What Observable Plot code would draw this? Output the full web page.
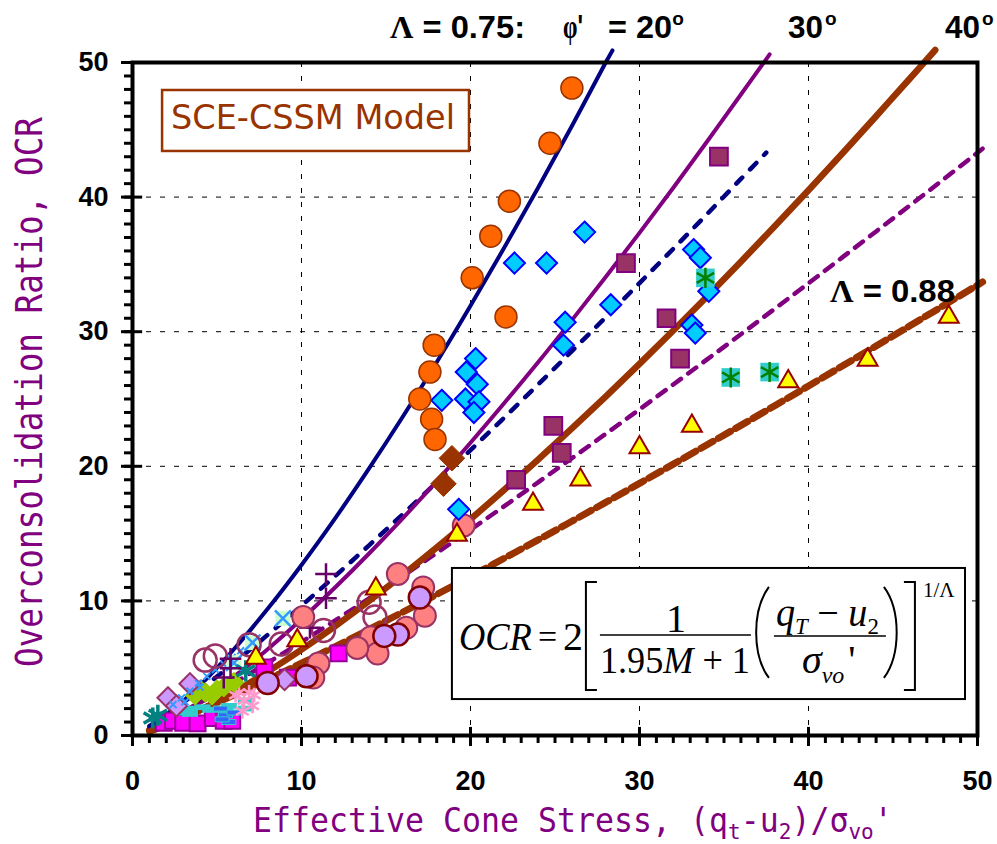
<!DOCTYPE html>
<html>
<head>
<meta charset="utf-8">
<script src="https://cdn.jsdelivr.net/npm/d3@7"></script>
<script src="https://cdn.jsdelivr.net/npm/@observablehq/plot@0.6"></script>
<style>
  body { margin: 0; background: #fff; }
  #chart { position: relative; width: 997px; height: 844px; }
</style>
</head>
<body>
<div id="chart"></div>
<script>
// ---------------- DATA ----------------
const majorTicks = [0, 10, 20, 30, 40, 50];
const minorTicks = d3.range(0, 51, 1);
const gridLines = [10, 20, 30, 40];

// model curves (Lambda = 0.75 solid, 0.88 dashed)
const xs20s = [1, 2, 4, 6, 8, 10, 12, 14, 16, 18, 20, 22, 24, 26, 28, 28.4];
const ys20s = [0.59, 1.48, 3.73, 6.41, 9.41, 12.67, 16.15, 19.84, 23.70, 27.73, 31.92, 36.25, 40.70, 45.28, 50.0, 50.9];
const xs30s = [1, 2, 4, 6, 8, 10, 12, 14, 16, 18, 20, 22, 24, 26, 28, 30, 32, 34, 36, 37.7];
const ys30s = [0.40, 1.01, 2.54, 4.37, 6.41, 8.63, 11.01, 13.52, 16.15, 18.90, 21.75, 24.70, 27.73, 30.86, 34.07, 37.34, 40.70, 44.13, 47.62, 50.6];
const xs40s = [1, 2, 4, 6, 8, 10, 12, 14, 16, 18, 20, 22, 24, 26, 28, 30, 32, 34, 36, 38, 40, 42, 44, 46, 47.5];
const ys40s = [0.30, 0.75, 1.88, 3.23, 4.74, 6.38, 8.13, 9.99, 11.94, 13.97, 16.07, 18.26, 20.50, 22.81, 25.18, 27.61, 30.09, 32.62, 35.20, 37.83, 40.51, 43.24, 46.01, 48.81, 50.93];
const xs20d = [1, 2, 4, 6, 8, 10, 12, 14, 16, 18, 20, 22, 24, 26, 28, 30, 32, 34, 36, 37.5];
const ys20d = [0.70, 1.55, 3.40, 5.40, 7.48, 9.64, 11.86, 14.13, 16.45, 18.81, 21.20, 23.62, 26.08, 28.56, 31.07, 33.61, 36.16, 38.74, 41.35, 43.30];
const xs30d = [1, 2, 4, 6, 8, 10, 12, 14, 16, 18, 20, 22, 24, 26, 28, 30, 32, 34, 36, 38, 40, 42, 44, 46, 48, 50, 50.3];
const ys30d = [0.51, 1.12, 2.45, 3.89, 5.40, 6.95, 8.55, 10.19, 11.86, 13.56, 15.29, 17.04, 18.81, 20.60, 22.41, 24.23, 26.08, 27.94, 29.81, 31.70, 33.60, 35.52, 37.45, 39.38, 41.33, 43.30, 43.6];
const xs40d = [1, 2, 4, 6, 8, 10, 12, 14, 16, 18, 20, 22, 24, 26, 28, 30, 32, 34, 36, 38, 40, 42, 44, 46, 48, 50, 50.3];
const ys40d = [0.39, 0.86, 1.90, 3.01, 4.17, 5.37, 6.61, 7.88, 9.17, 10.48, 11.81, 13.17, 14.53, 15.92, 17.32, 18.73, 20.16, 21.60, 23.04, 24.50, 25.97, 27.45, 28.94, 30.44, 31.95, 33.46, 33.7];

// measured data series [x, y]
const orangeCircles = [[26.0,48.1],[24.7,44.0],[22.3,39.7],[21.2,37.1],[20.1,34.0],[22.1,31.1],[17.85,29.0],[17.6,27.0],[17.0,25.0],[17.7,23.5],[17.9,22.0]];
const cyanDiamonds = [[26.75,37.4],[22.6,35.1],[24.5,35.1],[28.3,32.0],[25.6,30.7],[25.5,29.0],[33.2,36.1],[33.6,35.5],[34.1,33.0],[33.1,30.5],[33.3,29.9],[20.3,28.0],[19.75,27.0],[20.4,26.1],[18.3,24.9],[19.7,25.0],[20.5,24.8],[20.2,24.0],[19.3,16.8]];
const purpleSquares = [[34.7,43.0],[29.2,35.1],[31.6,31.0],[32.4,28.0],[24.9,23.0],[25.4,21.0],[22.7,19.0]];
const starSquares = [[33.9,34.0],[35.4,26.6],[37.7,27.0]];
const yellowTriangles = [[48.3,31.1],[43.5,27.9],[38.8,26.3],[33.1,23.0],[30.0,21.4],[26.5,19.0],[23.7,17.2],[19.2,14.9],[14.4,10.9],[9.75,7.05],[7.3,5.75]];
const brownDiamonds = [[18.9,20.6],[18.4,18.7]];
const salmonCircles = [[19.6,15.6],[15.7,12.0],[17.2,11.0],[17.3,8.9],[16.2,8.0],[14.1,7.3],[14.5,6.1],[13.3,6.5],[11.0,5.35],[10.1,8.8],[10.7,4.3]];
const lavenderCircles = [[17.0,10.25],[15.7,7.5],[14.9,7.4],[10.3,4.4],[8.0,3.9]];
const openCircles = [[4.3,5.6],[4.9,5.9],[6.9,6.75],[8.8,6.8],[11.3,7.8],[14.0,9.9],[14.35,8.8]];
const purplePlus = [[11.45,12.0],[11.45,10.2],[10.5,8.0],[5.8,5.7],[5.8,5.0],[5.4,4.3]];
const crossOnGreen = [[8.9,8.7],[7.1,6.9],[6.0,5.4]];
const smallBlueX = [[2.4,2.3],[2.9,2.8],[3.4,3.3],[3.9,3.9],[4.4,4.4],[4.9,4.9],[5.4,5.3],[5.9,5.8],[6.4,6.3],[3.1,2.5],[4.0,3.6]];
const lavenderDiamonds = [[2.1,2.8],[2.6,2.2],[3.4,3.85],[9.0,4.15]];
const greenDiamonds = [[3.7,3.0],[4.3,3.2],[4.7,3.0],[5.0,3.4],[5.4,3.6],[6.0,3.95],[4.0,3.4]];
const magentaSquares = [[1.85,0.95],[2.4,1.1],[3.0,0.95],[3.85,0.9],[4.75,1.3],[5.4,1.1],[5.9,1.1],[7.8,5.05],[12.2,6.1],[9.2,4.3]];
const cyanDashes = [[3.0,1.7],[3.4,2.0],[3.4,1.6],[4.15,2.1],[4.6,1.9],[5.5,1.9],[5.7,2.2],[6.7,2.6],[6.7,2.0]];
const blueDashes = [[5.2,2.0],[5.5,1.5],[5.7,1.0],[5.3,1.2],[6.0,1.7]];
const pinkStars = [[6.1,3.0],[6.3,3.2],[6.9,3.2],[7.1,2.2],[6.6,2.6],[7.2,3.0],[6.5,1.8]];
const tealAsterisks = [[1.2,1.3],[1.5,1.5],[6.7,4.8]];

// ---------------- CHART ----------------
const dashSymbol = {
  draw(ctx, size) {
    const r = Math.sqrt(size / Math.PI);
    ctx.moveTo(-r, -0.36 * r); ctx.lineTo(r, -0.36 * r);
    ctx.lineTo(r, 0.36 * r); ctx.lineTo(-r, 0.36 * r); ctx.closePath();
  }
};
const P = {x: d => d[0], y: d => d[1]};
const dots = (data, o) => Plot.dot(data, {...P, ...o});
const curve = (xs, ys, o) => Plot.line(d3.zip(xs, ys), {...P, curve: "catmull-rom", ...o});

const plot = Plot.plot({
  width: 997, height: 844,
  marginLeft: 132, marginRight: 20, marginTop: 62, marginBottom: 109,
  style: {fontFamily: "'Liberation Sans', Arial, sans-serif", background: "white", overflow: "visible", color: "black"},
  x: {domain: [0, 50]},
  y: {domain: [0, 50]},
  marks: [
    Plot.ruleX(gridLines, {stroke: "black", strokeWidth: 1, strokeDasharray: "5,9"}),
    Plot.ruleY(gridLines, {stroke: "black", strokeWidth: 1, strokeDasharray: "5,9"}),

    curve(xs20d, ys20d, {stroke: "#000080", strokeWidth: 4.5, strokeDasharray: "9,11"}),
    curve(xs30d, ys30d, {stroke: "#800080", strokeWidth: 4.5, strokeDasharray: "10,9"}),
    curve(xs40d, ys40d, {stroke: "#993300", strokeWidth: 7, strokeDasharray: "14,6"}),
    curve(xs20s, ys20s, {stroke: "#000080", strokeWidth: 4}),
    curve(xs30s, ys30s, {stroke: "#800080", strokeWidth: 4}),
    curve(xs40s, ys40s, {stroke: "#993300", strokeWidth: 6.5}),

    dots(magentaSquares, {symbol: "square", r: 9, fill: "#FF00FF", stroke: "#990099", strokeWidth: 2}),
    dots(cyanDashes, {symbol: dashSymbol, r: 8, fill: "#33CCCC", stroke: "none"}),
    dots(blueDashes, {symbol: dashSymbol, r: 7, fill: "#3366FF", stroke: "#33CCCC", strokeWidth: 1}),
    dots(pinkStars, {symbol: "asterisk", r: 7, fill: "none", stroke: "#FF99CC", strokeWidth: 2.5}),
    dots(greenDiamonds, {symbol: "diamond2", r: 9, fill: "#99CC00", stroke: "#99CC00", strokeWidth: 1}),
    dots(lavenderDiamonds, {symbol: "diamond2", r: 9.5, fill: "#CC99FF", stroke: "#993366", strokeWidth: 2}),
    dots(smallBlueX, {symbol: "times", r: 3.2, fill: "none", stroke: "#3399FF", strokeWidth: 2}),
    dots(crossOnGreen, {symbol: "square", r: 8.5, fill: "#CCFFCC", stroke: "none"}),
    dots(crossOnGreen, {symbol: "times", r: 7.3, fill: "none", stroke: "#3399FF", strokeWidth: 2.5}),
    dots(tealAsterisks, {symbol: "asterisk", r: 10, fill: "none", stroke: "#008080", strokeWidth: 3.5}),
    dots(openCircles, {r: 11.5, fill: "none", stroke: "#993366", strokeWidth: 2.5}),
    dots(purplePlus, {symbol: "plus", r: 7, fill: "none", stroke: "#660066", strokeWidth: 2.5}),
    dots(salmonCircles, {r: 11, fill: "#FF8080", stroke: "#993366", strokeWidth: 2}),
    dots(lavenderCircles, {r: 11, fill: "#CC99FF", stroke: "#800000", strokeWidth: 2.5}),
    dots(yellowTriangles, {symbol: "triangle", r: 7.4, fill: "#FFFF00", stroke: "#990000", strokeWidth: 2}),
    dots(brownDiamonds, {symbol: "diamond2", r: 11.5, fill: "#993300", stroke: "#993300", strokeWidth: 1}),
    dots(cyanDiamonds, {symbol: "diamond2", r: 9.5, fill: "#00CCFF", stroke: "#0000FF", strokeWidth: 2}),
    dots(purpleSquares, {symbol: "square", r: 10, fill: "#993366", stroke: "#800080", strokeWidth: 2}),
    dots(starSquares, {symbol: "square", r: 10.5, fill: "#33CCCC", stroke: "none"}),
    dots(starSquares, {symbol: "asterisk", r: 9.5, fill: "none", stroke: "#008000", strokeWidth: 2.5}),
    dots(orangeCircles, {r: 11, fill: "#FF6600", stroke: "#993300", strokeWidth: 1.5}),

    Plot.axisX({ticks: minorTicks, tickSize: 8, tickFormat: () => "", strokeWidth: 3, label: null}),
    Plot.axisY({ticks: minorTicks, tickSize: 8, tickFormat: () => "", strokeWidth: 3, label: null}),
    Plot.axisX({ticks: majorTicks, tickSize: 11, tickPadding: 24, strokeWidth: 3, fontSize: 27, fontWeight: "bold", label: null}),
    Plot.axisY({ticks: majorTicks, tickSize: 11, tickPadding: 13, strokeWidth: 3, fontSize: 27, fontWeight: "bold", label: null}),
    Plot.ruleX(majorTicks, {y1: 0, y2: 0.6, stroke: "black", strokeWidth: 3}),
    Plot.ruleY(majorTicks, {x1: 0, x2: 0.6, stroke: "black", strokeWidth: 3}),
    Plot.frame({stroke: "black", strokeWidth: 4})
  ]
});

document.getElementById("chart").append(plot);

// ---------------- ANNOTATIONS ----------------
const sx = v => plot.scale("x").apply(v);
const sy = v => plot.scale("y").apply(v);
const svg = d3.select(plot);
const ann = svg.append("g").attr("text-anchor", "start").attr("fill", "black");
const SANS = "'Liberation Sans', Arial, sans-serif";
const SERIF = "'Liberation Serif', 'Times New Roman', serif";
const MONO = "'DejaVu Sans Mono', monospace";

function fitted(x, y, width, build, opts = {}) {
  const g = ann.append("g");
  const t = g.append("text").attr("x", 0).attr("y", 0).attr("text-anchor", opts.anchor || "start");
  build(t);
  const w = t.node().getComputedTextLength();
  const k = width ? width / w : 1;
  g.attr("transform", `translate(${x},${y})${opts.rotate ? ` rotate(${opts.rotate})` : ""} scale(${k},1)`);
  return t;
}

// Axis titles
fitted(42, 392, 550, t => {
  t.attr("font-family", MONO).attr("font-size", 37).attr("fill", "#800080")
   .text("Overconsolidation Ratio, OCR");
}, {rotate: -90, anchor: "middle"});

fitted(253, 832, 640, t => {
  t.attr("font-family", MONO).attr("font-size", 33).attr("fill", "#800080");
  t.append("tspan").text("Effective Cone Stress, (q");
  t.append("tspan").attr("font-size", 22).attr("dy", 7).text("t");
  t.append("tspan").attr("dy", -7).text("-u");
  t.append("tspan").attr("font-size", 22).attr("dy", 7).text("2");
  t.append("tspan").attr("dy", -7).text(")/σ");
  t.append("tspan").attr("font-size", 22).attr("dy", 7).text("vo");
  t.append("tspan").attr("dy", -7).text("'");
});

// Top labels
const topY = sy(51.78);
fitted(sx(15.27), topY, 135, t => {
  t.attr("font-family", SANS).attr("font-size", 32).attr("font-weight", "bold");
  t.append("tspan").attr("font-family", SERIF).text("Λ");
  t.append("tspan").text(" = 0.75:");
});
fitted(sx(25.5), topY, 20, t => {
  t.attr("font-family", SANS).attr("font-size", 34).attr("font-weight", "bold");
  t.append("tspan").attr("font-family", SERIF).text("φ");
  t.append("tspan").text("'");
});
function degLabel(xv, str, width) {
  fitted(sx(xv), topY, width, t => {
    t.attr("font-family", SANS).attr("font-size", 32).attr("font-weight", "bold").text(str);
  });
}
degLabel(28.17, "= 20", 64);
degLabel(38.82, "30", 35);
degLabel(48.1, "40", 35);
for (const xv of [31.97, 41.0, 50.3]) {
  ann.append("text").attr("x", sx(xv)).attr("y", sy(52.75))
    .attr("font-family", SANS).attr("font-size", 19).attr("font-weight", "bold").text("o");
}
fitted(sx(41.3), sy(32.17), 125, t => {
  t.attr("font-family", SANS).attr("font-size", 32).attr("font-weight", "bold");
  t.append("tspan").attr("font-family", SERIF).text("Λ");
  t.append("tspan").text(" = 0.88");
});

// SCE-CSSM Model box
{
  const x1 = sx(1.78), x2 = sx(19.94), y1 = sy(47.92), y2 = sy(43.39);
  ann.append("rect").attr("x", x1).attr("y", y1).attr("width", x2 - x1).attr("height", y2 - y1)
    .attr("fill", "white").attr("stroke", "#993300").attr("stroke-width", 2.5);
  fitted(sx(2.31), sy(45.02), 284, t => {
    t.attr("font-family", "'DejaVu Sans', Verdana, sans-serif").attr("font-size", 33).attr("fill", "#993300")
     .text("SCE-CSSM Model");
  });
}

// Formula box
{
  const L = sx(18.93), T = sy(12.41), R = sx(49.29), B = sy(2.67);
  const g = ann.append("g").attr("transform", `translate(${L},${T})`);
  g.append("rect").attr("x", 0).attr("y", 0).attr("width", R - L).attr("height", B - T)
    .attr("fill", "white").attr("stroke", "black").attr("stroke-width", 2);
  const txt = (x, y, s, o = {}) => {
    const t = g.append("text").attr("x", x).attr("y", y).attr("font-family", SERIF)
      .attr("font-size", o.size || 40).attr("text-anchor", o.anchor || "start").attr("fill", "black");
    if (o.italic) t.attr("font-style", "italic");
    if (o.len) t.attr("textLength", o.len).attr("lengthAdjust", "spacingAndGlyphs");
    t.text(s);
    return t;
  };
  txt(7, 82, "OCR", {italic: true, len: 73});
  txt(86, 80, "=", {size: 34});
  txt(111, 82, "2");
  g.append("path").attr("d", "M145,14H134V122H145").attr("fill", "none").attr("stroke", "black").attr("stroke-width", 2);
  txt(224, 64, "1", {anchor: "middle"});
  g.append("line").attr("x1", 148).attr("x2", 299).attr("y1", 67).attr("y2", 67).attr("stroke", "black").attr("stroke-width", 1.6);
  {
    const t = g.append("text").attr("x", 148).attr("y", 105).attr("font-family", SERIF).attr("font-size", 38)
      .attr("text-anchor", "start").attr("textLength", 150).attr("lengthAdjust", "spacingAndGlyphs");
    t.append("tspan").text("1.95");
    t.append("tspan").attr("font-style", "italic").text("M");
    t.append("tspan").text(" + 1");
  }
  g.append("path").attr("d", "M317,19C300,42 300,87 317,110").attr("fill", "none").attr("stroke", "black").attr("stroke-width", 2);
  {
    const t = g.append("text").attr("x", 324).attr("y", 58).attr("font-family", SERIF).attr("font-size", 40)
      .attr("text-anchor", "start").attr("textLength", 103).attr("lengthAdjust", "spacingAndGlyphs");
    t.append("tspan").attr("font-style", "italic").text("q");
    t.append("tspan").attr("font-style", "italic").attr("font-size", 24).attr("dy", 8).text("T");
    t.append("tspan").attr("dy", -8).text(" − ");
    t.append("tspan").attr("font-style", "italic").text("u");
    t.append("tspan").attr("font-size", 24).attr("dy", 8).text("2");
  }
  g.append("line").attr("x1", 322).attr("x2", 434).attr("y1", 68).attr("y2", 68).attr("stroke", "black").attr("stroke-width", 1.6);
  {
    const t = g.append("text").attr("x", 350).attr("y", 105).attr("font-family", SERIF).attr("font-size", 40)
      .attr("text-anchor", "start");
    t.append("tspan").attr("font-style", "italic").text("σ");
    t.append("tspan").attr("font-style", "italic").attr("font-size", 24).attr("dy", 10).text("vo");
    t.append("tspan").attr("dy", -10).attr("dx", 4).text("'");
  }
  g.append("path").attr("d", "M432,19C449,42 449,87 432,110").attr("fill", "none").attr("stroke", "black").attr("stroke-width", 2);
  g.append("path").attr("d", "M452,14H463V122H452").attr("fill", "none").attr("stroke", "black").attr("stroke-width", 2);
  txt(471, 29, "1/Λ", {size: 21});
}
</script>
</body>
</html>
